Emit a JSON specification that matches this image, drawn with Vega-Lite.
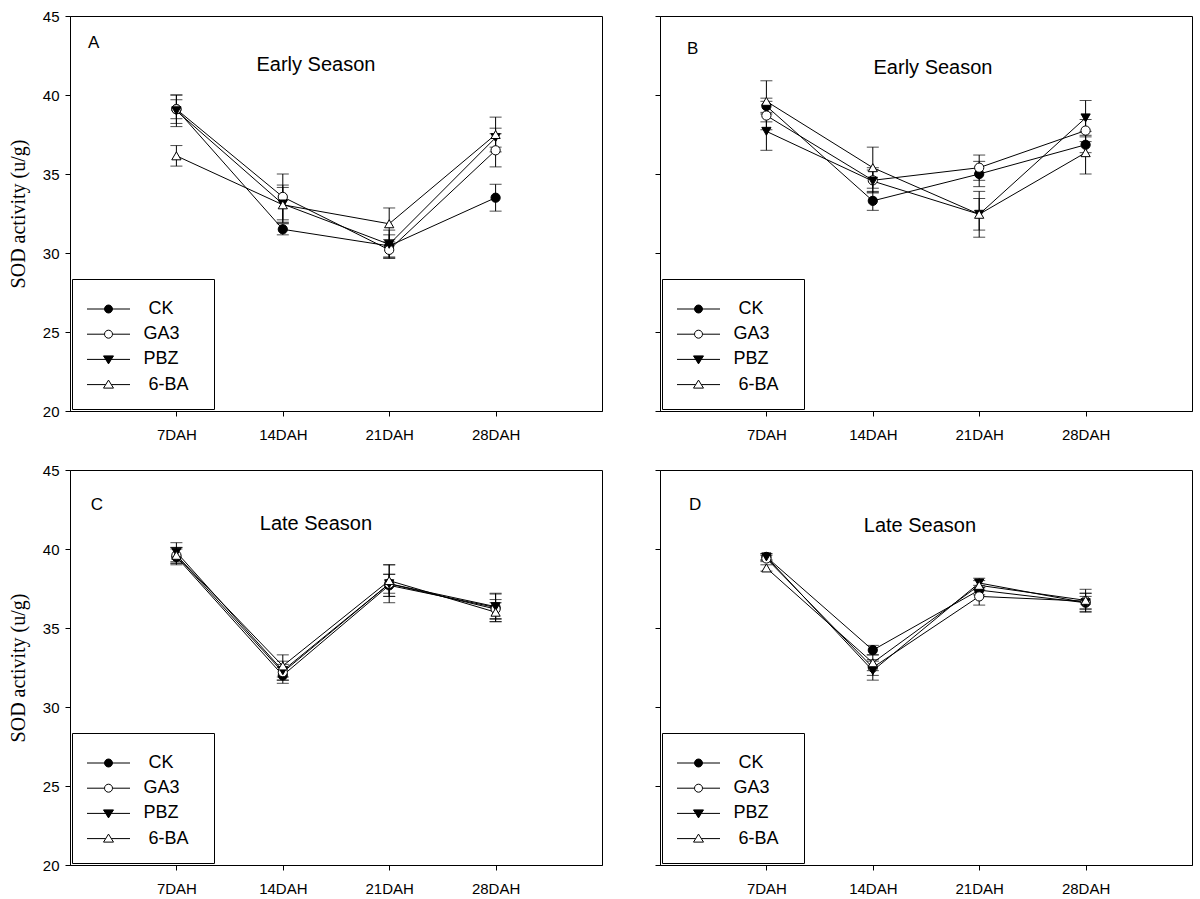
{
  "$schema": "https://vega.github.io/schema/vega-lite/v6.json",
  "background": "white",
  "padding": {"left": 7, "top": 8, "right": 5, "bottom": 5},
  "datasets": {
    "A": [
      {"treatment": "CK", "day": 7, "mean": 39.1, "se": 0.9},
      {"treatment": "CK", "day": 14, "mean": 31.5, "se": 0.35},
      {"treatment": "CK", "day": 21, "mean": 30.45, "se": 0.7},
      {"treatment": "CK", "day": 28, "mean": 33.5, "se": 0.85},
      {"treatment": "GA3", "day": 7, "mean": 39.1, "se": 0.6},
      {"treatment": "GA3", "day": 14, "mean": 33.55, "se": 1.45},
      {"treatment": "GA3", "day": 21, "mean": 30.2, "se": 0.5},
      {"treatment": "GA3", "day": 28, "mean": 36.5, "se": 1.05},
      {"treatment": "PBZ", "day": 7, "mean": 39.0, "se": 1.0},
      {"treatment": "PBZ", "day": 14, "mean": 33.1, "se": 1.2},
      {"treatment": "PBZ", "day": 21, "mean": 30.55, "se": 0.9},
      {"treatment": "PBZ", "day": 28, "mean": 37.3, "se": 0.6},
      {"treatment": "6-BA", "day": 7, "mean": 36.15, "se": 0.65},
      {"treatment": "6-BA", "day": 14, "mean": 33.05, "se": 1.1},
      {"treatment": "6-BA", "day": 21, "mean": 31.85, "se": 1.0},
      {"treatment": "6-BA", "day": 28, "mean": 37.5, "se": 1.1}
    ],
    "B": [
      {"treatment": "CK", "day": 7, "mean": 39.3, "se": 0.5},
      {"treatment": "CK", "day": 14, "mean": 33.3, "se": 0.6},
      {"treatment": "CK", "day": 21, "mean": 35.0, "se": 0.8},
      {"treatment": "CK", "day": 28, "mean": 36.85, "se": 0.5},
      {"treatment": "GA3", "day": 7, "mean": 38.7, "se": 0.9},
      {"treatment": "GA3", "day": 14, "mean": 34.6, "se": 0.8},
      {"treatment": "GA3", "day": 21, "mean": 35.4, "se": 0.8},
      {"treatment": "GA3", "day": 28, "mean": 37.75, "se": 0.7},
      {"treatment": "PBZ", "day": 7, "mean": 37.7, "se": 1.2},
      {"treatment": "PBZ", "day": 14, "mean": 34.55, "se": 0.7},
      {"treatment": "PBZ", "day": 21, "mean": 32.45, "se": 1.0},
      {"treatment": "PBZ", "day": 28, "mean": 38.55, "se": 1.1},
      {"treatment": "6-BA", "day": 7, "mean": 39.6, "se": 1.3},
      {"treatment": "6-BA", "day": 14, "mean": 35.4, "se": 1.3},
      {"treatment": "6-BA", "day": 21, "mean": 32.45, "se": 1.45},
      {"treatment": "6-BA", "day": 28, "mean": 36.35, "se": 1.35}
    ],
    "C": [
      {"treatment": "CK", "day": 7, "mean": 39.5, "se": 0.5},
      {"treatment": "CK", "day": 14, "mean": 32.0, "se": 0.5},
      {"treatment": "CK", "day": 21, "mean": 37.7, "se": 0.7},
      {"treatment": "CK", "day": 28, "mean": 36.3, "se": 0.9},
      {"treatment": "GA3", "day": 7, "mean": 39.6, "se": 0.5},
      {"treatment": "GA3", "day": 14, "mean": 32.2, "se": 0.5},
      {"treatment": "GA3", "day": 21, "mean": 37.8, "se": 0.6},
      {"treatment": "GA3", "day": 28, "mean": 36.2, "se": 0.6},
      {"treatment": "PBZ", "day": 7, "mean": 39.8, "se": 0.6},
      {"treatment": "PBZ", "day": 14, "mean": 32.3, "se": 0.6},
      {"treatment": "PBZ", "day": 21, "mean": 37.8, "se": 1.2},
      {"treatment": "PBZ", "day": 28, "mean": 36.35, "se": 0.8},
      {"treatment": "6-BA", "day": 7, "mean": 39.6, "se": 0.5},
      {"treatment": "6-BA", "day": 14, "mean": 32.6, "se": 0.7},
      {"treatment": "6-BA", "day": 21, "mean": 38.0, "se": 1.0},
      {"treatment": "6-BA", "day": 28, "mean": 36.0, "se": 0.6}
    ],
    "D": [
      {"treatment": "CK", "day": 7, "mean": 39.5, "se": 0.2},
      {"treatment": "CK", "day": 14, "mean": 33.6, "se": 0.3},
      {"treatment": "CK", "day": 21, "mean": 37.4, "se": 0.3},
      {"treatment": "CK", "day": 28, "mean": 36.6, "se": 0.6},
      {"treatment": "GA3", "day": 7, "mean": 39.4, "se": 0.2},
      {"treatment": "GA3", "day": 14, "mean": 32.5, "se": 0.5},
      {"treatment": "GA3", "day": 21, "mean": 37.0, "se": 0.55},
      {"treatment": "GA3", "day": 28, "mean": 36.7, "se": 0.5},
      {"treatment": "PBZ", "day": 7, "mean": 39.5, "se": 0.2},
      {"treatment": "PBZ", "day": 14, "mean": 32.3, "se": 0.6},
      {"treatment": "PBZ", "day": 21, "mean": 37.85, "se": 0.3},
      {"treatment": "PBZ", "day": 28, "mean": 36.6, "se": 0.4},
      {"treatment": "6-BA", "day": 7, "mean": 38.8, "se": 0.2},
      {"treatment": "6-BA", "day": 14, "mean": 32.8, "se": 0.5},
      {"treatment": "6-BA", "day": 21, "mean": 37.7, "se": 0.3},
      {"treatment": "6-BA", "day": 28, "mean": 36.75, "se": 0.7}
    ]
  },
  "spacing": 19,
  "vconcat": [
    {
      "spacing": 51,
      "hconcat": [
        {
          "width": 532, "height": 395,
          "resolve": {"scale": {"shape": "independent", "fill": "independent"}},
          "layer": [
            {"data": {"name": "A"}, "mark": {"type": "errorbar", "ticks": true, "size": 12, "thickness": 1, "color": "black"},
             "encoding": {
               "x": {"field": "day", "type": "quantitative", "scale": {"domain": [0, 35], "nice": false}, "axis": {"values": [7, 14, 21, 28], "labelExpr": "datum.value + 'DAH'", "title": null}},
               "y": {"field": "mean", "type": "quantitative", "scale": {"domain": [20, 45], "nice": false}, "axis": {"values": [20, 25, 30, 35, 40, 45], "title": "SOD activity (u/g)"}},
               "yError": {"field": "se"}}},
            {"data": {"name": "A"}, "mark": {"type": "line", "color": "black", "strokeWidth": 1},
             "encoding": {
               "x": {"field": "day", "type": "quantitative", "scale": {"domain": [0, 35], "nice": false}, "axis": {"values": [7, 14, 21, 28], "labelExpr": "datum.value + 'DAH'", "title": null}},
               "y": {"field": "mean", "type": "quantitative", "scale": {"domain": [20, 45], "nice": false}, "axis": {"values": [20, 25, 30, 35, 40, 45], "title": "SOD activity (u/g)"}},
               "detail": {"field": "treatment"}}},
            {"data": {"name": "A"}, "mark": {"type": "point", "filled": true, "stroke": "black", "strokeWidth": 1, "size": 85, "opacity": 1},
             "encoding": {
               "x": {"field": "day", "type": "quantitative", "scale": {"domain": [0, 35], "nice": false}, "axis": {"values": [7, 14, 21, 28], "labelExpr": "datum.value + 'DAH'", "title": null}},
               "y": {"field": "mean", "type": "quantitative", "scale": {"domain": [20, 45], "nice": false}, "axis": {"values": [20, 25, 30, 35, 40, 45], "title": "SOD activity (u/g)"}},
               "shape": {"field": "treatment", "scale": {"domain": ["CK", "GA3", "PBZ", "6-BA"], "range": ["circle", "circle", "triangle-down", "triangle-up"]}, "legend": null},
               "fill": {"field": "treatment", "scale": {"domain": ["CK", "GA3", "PBZ", "6-BA"], "range": ["black", "white", "black", "white"]}, "legend": null}
             }},
            {"data": {"name": "A"}, "mark": {"type": "point", "filled": true, "stroke": "black", "strokeWidth": 1, "opacity": 0},
             "encoding": {
               "x": {"field": "day", "type": "quantitative", "scale": {"domain": [0, 35], "nice": false}, "axis": {"values": [7, 14, 21, 28], "labelExpr": "datum.value + 'DAH'", "title": null}},
               "y": {"field": "mean", "type": "quantitative", "scale": {"domain": [20, 45], "nice": false}, "axis": {"values": [20, 25, 30, 35, 40, 45], "title": "SOD activity (u/g)"}},
               "shape": {"field": "treatment", "scale": {"domain": ["CK", "GA3", "PBZ", "6-BA"], "range": ["M-4.3,0H-0.8M0.8,0H4.3M-0.8,0A0.8,0.8,0,1,1,0.8,0A0.8,0.8,0,1,1,-0.8,0Z", "M-4.3,0H-0.8M0.8,0H4.3M-0.8,0A0.8,0.8,0,1,1,0.8,0A0.8,0.8,0,1,1,-0.8,0Z", "M-4.3,0H4.3M-1,-0.7L1,-0.7L0,0.9Z", "M-4.3,0H-0.56M0.56,0H4.3M-1,0.7L1,0.7L0,-0.9Z"]},
                 "legend": {"title": "\u00a0", "labelExpr": "datum.label == 'CK' ? '\u200b\u00a0CK' : datum.label == '6-BA' ? '\u200b\u00a06-BA\u00a0\u00a0\u200b' : datum.label", "encode": {"symbols": {"update": {"stroke": {"value": "black"}, "strokeWidth": {"value": 1}, "opacity": {"value": 1}}}}}},
               "fill": {"field": "treatment", "scale": {"domain": ["CK", "GA3", "PBZ", "6-BA"], "range": ["black", "white", "black", "white"]},
                 "legend": {"title": "\u00a0", "labelExpr": "datum.label == 'CK' ? '\u200b\u00a0CK' : datum.label == '6-BA' ? '\u200b\u00a06-BA\u00a0\u00a0\u200b' : datum.label", "encode": {"symbols": {"update": {"stroke": {"value": "black"}, "strokeWidth": {"value": 1}, "opacity": {"value": 1}}}}}}
             }},
            {"data": {"values": [{"label": "A"}]}, "mark": {"type": "text", "align": "left", "baseline": "alphabetic", "fontSize": 17, "font": "Liberation Sans", "color": "black"}, "encoding": {"text": {"field": "label"}, "x": {"datum": 1.18, "scale": {"domain": [0, 35], "nice": false}}, "y": {"datum": 42.99, "scale": {"domain": [20, 45], "nice": false}}}},
            {"data": {"values": [{"label": "Early Season"}]}, "mark": {"type": "text", "align": "center", "baseline": "alphabetic", "fontSize": 20, "font": "Liberation Sans", "color": "black"}, "encoding": {"text": {"field": "label"}, "x": {"datum": 16.18, "scale": {"domain": [0, 35], "nice": false}}, "y": {"datum": 41.52, "scale": {"domain": [20, 45], "nice": false}}}}
          ]
        },
        {
          "width": 532, "height": 395,
          "resolve": {"scale": {"shape": "independent", "fill": "independent"}},
          "layer": [
            {"data": {"name": "B"}, "mark": {"type": "errorbar", "ticks": true, "size": 12, "thickness": 1, "color": "black"},
             "encoding": {
               "x": {"field": "day", "type": "quantitative", "scale": {"domain": [0, 35], "nice": false}, "axis": {"values": [7, 14, 21, 28], "labelExpr": "datum.value + 'DAH'", "title": null}},
               "y": {"field": "mean", "type": "quantitative", "scale": {"domain": [20, 45], "nice": false}, "axis": {"values": [20, 25, 30, 35, 40, 45], "labels": false, "title": null}},
               "yError": {"field": "se"}}},
            {"data": {"name": "B"}, "mark": {"type": "line", "color": "black", "strokeWidth": 1},
             "encoding": {
               "x": {"field": "day", "type": "quantitative", "scale": {"domain": [0, 35], "nice": false}, "axis": {"values": [7, 14, 21, 28], "labelExpr": "datum.value + 'DAH'", "title": null}},
               "y": {"field": "mean", "type": "quantitative", "scale": {"domain": [20, 45], "nice": false}, "axis": {"values": [20, 25, 30, 35, 40, 45], "labels": false, "title": null}},
               "detail": {"field": "treatment"}}},
            {"data": {"name": "B"}, "mark": {"type": "point", "filled": true, "stroke": "black", "strokeWidth": 1, "size": 85, "opacity": 1},
             "encoding": {
               "x": {"field": "day", "type": "quantitative", "scale": {"domain": [0, 35], "nice": false}, "axis": {"values": [7, 14, 21, 28], "labelExpr": "datum.value + 'DAH'", "title": null}},
               "y": {"field": "mean", "type": "quantitative", "scale": {"domain": [20, 45], "nice": false}, "axis": {"values": [20, 25, 30, 35, 40, 45], "labels": false, "title": null}},
               "shape": {"field": "treatment", "scale": {"domain": ["CK", "GA3", "PBZ", "6-BA"], "range": ["circle", "circle", "triangle-down", "triangle-up"]}, "legend": null},
               "fill": {"field": "treatment", "scale": {"domain": ["CK", "GA3", "PBZ", "6-BA"], "range": ["black", "white", "black", "white"]}, "legend": null}
             }},
            {"data": {"name": "B"}, "mark": {"type": "point", "filled": true, "stroke": "black", "strokeWidth": 1, "opacity": 0},
             "encoding": {
               "x": {"field": "day", "type": "quantitative", "scale": {"domain": [0, 35], "nice": false}, "axis": {"values": [7, 14, 21, 28], "labelExpr": "datum.value + 'DAH'", "title": null}},
               "y": {"field": "mean", "type": "quantitative", "scale": {"domain": [20, 45], "nice": false}, "axis": {"values": [20, 25, 30, 35, 40, 45], "labels": false, "title": null}},
               "shape": {"field": "treatment", "scale": {"domain": ["CK", "GA3", "PBZ", "6-BA"], "range": ["M-4.3,0H-0.8M0.8,0H4.3M-0.8,0A0.8,0.8,0,1,1,0.8,0A0.8,0.8,0,1,1,-0.8,0Z", "M-4.3,0H-0.8M0.8,0H4.3M-0.8,0A0.8,0.8,0,1,1,0.8,0A0.8,0.8,0,1,1,-0.8,0Z", "M-4.3,0H4.3M-1,-0.7L1,-0.7L0,0.9Z", "M-4.3,0H-0.56M0.56,0H4.3M-1,0.7L1,0.7L0,-0.9Z"]},
                 "legend": {"title": "\u00a0", "labelExpr": "datum.label == 'CK' ? '\u200b\u00a0CK' : datum.label == '6-BA' ? '\u200b\u00a06-BA\u00a0\u00a0\u200b' : datum.label", "encode": {"symbols": {"update": {"stroke": {"value": "black"}, "strokeWidth": {"value": 1}, "opacity": {"value": 1}}}}}},
               "fill": {"field": "treatment", "scale": {"domain": ["CK", "GA3", "PBZ", "6-BA"], "range": ["black", "white", "black", "white"]},
                 "legend": {"title": "\u00a0", "labelExpr": "datum.label == 'CK' ? '\u200b\u00a0CK' : datum.label == '6-BA' ? '\u200b\u00a06-BA\u00a0\u00a0\u200b' : datum.label", "encode": {"symbols": {"update": {"stroke": {"value": "black"}, "strokeWidth": {"value": 1}, "opacity": {"value": 1}}}}}}
             }},
            {"data": {"values": [{"label": "B"}]}, "mark": {"type": "text", "align": "left", "baseline": "alphabetic", "fontSize": 17, "font": "Liberation Sans", "color": "black"}, "encoding": {"text": {"field": "label"}, "x": {"datum": 1.78, "scale": {"domain": [0, 35], "nice": false}}, "y": {"datum": 42.58, "scale": {"domain": [20, 45], "nice": false}}}},
            {"data": {"values": [{"label": "Early Season"}]}, "mark": {"type": "text", "align": "center", "baseline": "alphabetic", "fontSize": 20, "font": "Liberation Sans", "color": "black"}, "encoding": {"text": {"field": "label"}, "x": {"datum": 17.96, "scale": {"domain": [0, 35], "nice": false}}, "y": {"datum": 41.3, "scale": {"domain": [20, 45], "nice": false}}}}
          ]
        }
      ]
    },
    {
      "spacing": 51,
      "hconcat": [
        {
          "width": 532, "height": 395,
          "resolve": {"scale": {"shape": "independent", "fill": "independent"}},
          "layer": [
            {"data": {"name": "C"}, "mark": {"type": "errorbar", "ticks": true, "size": 12, "thickness": 1, "color": "black"},
             "encoding": {
               "x": {"field": "day", "type": "quantitative", "scale": {"domain": [0, 35], "nice": false}, "axis": {"values": [7, 14, 21, 28], "labelExpr": "datum.value + 'DAH'", "title": null}},
               "y": {"field": "mean", "type": "quantitative", "scale": {"domain": [20, 45], "nice": false}, "axis": {"values": [20, 25, 30, 35, 40, 45], "title": "SOD activity (u/g)"}},
               "yError": {"field": "se"}}},
            {"data": {"name": "C"}, "mark": {"type": "line", "color": "black", "strokeWidth": 1},
             "encoding": {
               "x": {"field": "day", "type": "quantitative", "scale": {"domain": [0, 35], "nice": false}, "axis": {"values": [7, 14, 21, 28], "labelExpr": "datum.value + 'DAH'", "title": null}},
               "y": {"field": "mean", "type": "quantitative", "scale": {"domain": [20, 45], "nice": false}, "axis": {"values": [20, 25, 30, 35, 40, 45], "title": "SOD activity (u/g)"}},
               "detail": {"field": "treatment"}}},
            {"data": {"name": "C"}, "mark": {"type": "point", "filled": true, "stroke": "black", "strokeWidth": 1, "size": 85, "opacity": 1},
             "encoding": {
               "x": {"field": "day", "type": "quantitative", "scale": {"domain": [0, 35], "nice": false}, "axis": {"values": [7, 14, 21, 28], "labelExpr": "datum.value + 'DAH'", "title": null}},
               "y": {"field": "mean", "type": "quantitative", "scale": {"domain": [20, 45], "nice": false}, "axis": {"values": [20, 25, 30, 35, 40, 45], "title": "SOD activity (u/g)"}},
               "shape": {"field": "treatment", "scale": {"domain": ["CK", "GA3", "PBZ", "6-BA"], "range": ["circle", "circle", "triangle-down", "triangle-up"]}, "legend": null},
               "fill": {"field": "treatment", "scale": {"domain": ["CK", "GA3", "PBZ", "6-BA"], "range": ["black", "white", "black", "white"]}, "legend": null}
             }},
            {"data": {"name": "C"}, "mark": {"type": "point", "filled": true, "stroke": "black", "strokeWidth": 1, "opacity": 0},
             "encoding": {
               "x": {"field": "day", "type": "quantitative", "scale": {"domain": [0, 35], "nice": false}, "axis": {"values": [7, 14, 21, 28], "labelExpr": "datum.value + 'DAH'", "title": null}},
               "y": {"field": "mean", "type": "quantitative", "scale": {"domain": [20, 45], "nice": false}, "axis": {"values": [20, 25, 30, 35, 40, 45], "title": "SOD activity (u/g)"}},
               "shape": {"field": "treatment", "scale": {"domain": ["CK", "GA3", "PBZ", "6-BA"], "range": ["M-4.3,0H-0.8M0.8,0H4.3M-0.8,0A0.8,0.8,0,1,1,0.8,0A0.8,0.8,0,1,1,-0.8,0Z", "M-4.3,0H-0.8M0.8,0H4.3M-0.8,0A0.8,0.8,0,1,1,0.8,0A0.8,0.8,0,1,1,-0.8,0Z", "M-4.3,0H4.3M-1,-0.7L1,-0.7L0,0.9Z", "M-4.3,0H-0.56M0.56,0H4.3M-1,0.7L1,0.7L0,-0.9Z"]},
                 "legend": {"title": "\u00a0", "labelExpr": "datum.label == 'CK' ? '\u200b\u00a0CK' : datum.label == '6-BA' ? '\u200b\u00a06-BA\u00a0\u00a0\u200b' : datum.label", "encode": {"symbols": {"update": {"stroke": {"value": "black"}, "strokeWidth": {"value": 1}, "opacity": {"value": 1}}}}}},
               "fill": {"field": "treatment", "scale": {"domain": ["CK", "GA3", "PBZ", "6-BA"], "range": ["black", "white", "black", "white"]},
                 "legend": {"title": "\u00a0", "labelExpr": "datum.label == 'CK' ? '\u200b\u00a0CK' : datum.label == '6-BA' ? '\u200b\u00a06-BA\u00a0\u00a0\u200b' : datum.label", "encode": {"symbols": {"update": {"stroke": {"value": "black"}, "strokeWidth": {"value": 1}, "opacity": {"value": 1}}}}}}
             }},
            {"data": {"values": [{"label": "C"}]}, "mark": {"type": "text", "align": "left", "baseline": "alphabetic", "fontSize": 17, "font": "Liberation Sans", "color": "black"}, "encoding": {"text": {"field": "label"}, "x": {"datum": 1.36, "scale": {"domain": [0, 35], "nice": false}}, "y": {"datum": 42.47, "scale": {"domain": [20, 45], "nice": false}}}},
            {"data": {"values": [{"label": "Late Season"}]}, "mark": {"type": "text", "align": "center", "baseline": "alphabetic", "fontSize": 20, "font": "Liberation Sans", "color": "black"}, "encoding": {"text": {"field": "label"}, "x": {"datum": 16.18, "scale": {"domain": [0, 35], "nice": false}}, "y": {"datum": 41.2, "scale": {"domain": [20, 45], "nice": false}}}}
          ]
        },
        {
          "width": 532, "height": 395,
          "resolve": {"scale": {"shape": "independent", "fill": "independent"}},
          "layer": [
            {"data": {"name": "D"}, "mark": {"type": "errorbar", "ticks": true, "size": 12, "thickness": 1, "color": "black"},
             "encoding": {
               "x": {"field": "day", "type": "quantitative", "scale": {"domain": [0, 35], "nice": false}, "axis": {"values": [7, 14, 21, 28], "labelExpr": "datum.value + 'DAH'", "title": null}},
               "y": {"field": "mean", "type": "quantitative", "scale": {"domain": [20, 45], "nice": false}, "axis": {"values": [20, 25, 30, 35, 40, 45], "labels": false, "title": null}},
               "yError": {"field": "se"}}},
            {"data": {"name": "D"}, "mark": {"type": "line", "color": "black", "strokeWidth": 1},
             "encoding": {
               "x": {"field": "day", "type": "quantitative", "scale": {"domain": [0, 35], "nice": false}, "axis": {"values": [7, 14, 21, 28], "labelExpr": "datum.value + 'DAH'", "title": null}},
               "y": {"field": "mean", "type": "quantitative", "scale": {"domain": [20, 45], "nice": false}, "axis": {"values": [20, 25, 30, 35, 40, 45], "labels": false, "title": null}},
               "detail": {"field": "treatment"}}},
            {"data": {"name": "D"}, "mark": {"type": "point", "filled": true, "stroke": "black", "strokeWidth": 1, "size": 85, "opacity": 1},
             "encoding": {
               "x": {"field": "day", "type": "quantitative", "scale": {"domain": [0, 35], "nice": false}, "axis": {"values": [7, 14, 21, 28], "labelExpr": "datum.value + 'DAH'", "title": null}},
               "y": {"field": "mean", "type": "quantitative", "scale": {"domain": [20, 45], "nice": false}, "axis": {"values": [20, 25, 30, 35, 40, 45], "labels": false, "title": null}},
               "shape": {"field": "treatment", "scale": {"domain": ["CK", "GA3", "PBZ", "6-BA"], "range": ["circle", "circle", "triangle-down", "triangle-up"]}, "legend": null},
               "fill": {"field": "treatment", "scale": {"domain": ["CK", "GA3", "PBZ", "6-BA"], "range": ["black", "white", "black", "white"]}, "legend": null}
             }},
            {"data": {"name": "D"}, "mark": {"type": "point", "filled": true, "stroke": "black", "strokeWidth": 1, "opacity": 0},
             "encoding": {
               "x": {"field": "day", "type": "quantitative", "scale": {"domain": [0, 35], "nice": false}, "axis": {"values": [7, 14, 21, 28], "labelExpr": "datum.value + 'DAH'", "title": null}},
               "y": {"field": "mean", "type": "quantitative", "scale": {"domain": [20, 45], "nice": false}, "axis": {"values": [20, 25, 30, 35, 40, 45], "labels": false, "title": null}},
               "shape": {"field": "treatment", "scale": {"domain": ["CK", "GA3", "PBZ", "6-BA"], "range": ["M-4.3,0H-0.8M0.8,0H4.3M-0.8,0A0.8,0.8,0,1,1,0.8,0A0.8,0.8,0,1,1,-0.8,0Z", "M-4.3,0H-0.8M0.8,0H4.3M-0.8,0A0.8,0.8,0,1,1,0.8,0A0.8,0.8,0,1,1,-0.8,0Z", "M-4.3,0H4.3M-1,-0.7L1,-0.7L0,0.9Z", "M-4.3,0H-0.56M0.56,0H4.3M-1,0.7L1,0.7L0,-0.9Z"]},
                 "legend": {"title": "\u00a0", "labelExpr": "datum.label == 'CK' ? '\u200b\u00a0CK' : datum.label == '6-BA' ? '\u200b\u00a06-BA\u00a0\u00a0\u200b' : datum.label", "encode": {"symbols": {"update": {"stroke": {"value": "black"}, "strokeWidth": {"value": 1}, "opacity": {"value": 1}}}}}},
               "fill": {"field": "treatment", "scale": {"domain": ["CK", "GA3", "PBZ", "6-BA"], "range": ["black", "white", "black", "white"]},
                 "legend": {"title": "\u00a0", "labelExpr": "datum.label == 'CK' ? '\u200b\u00a0CK' : datum.label == '6-BA' ? '\u200b\u00a06-BA\u00a0\u00a0\u200b' : datum.label", "encode": {"symbols": {"update": {"stroke": {"value": "black"}, "strokeWidth": {"value": 1}, "opacity": {"value": 1}}}}}}
             }},
            {"data": {"values": [{"label": "D"}]}, "mark": {"type": "text", "align": "left", "baseline": "alphabetic", "fontSize": 17, "font": "Liberation Sans", "color": "black"}, "encoding": {"text": {"field": "label"}, "x": {"datum": 1.91, "scale": {"domain": [0, 35], "nice": false}}, "y": {"datum": 42.47, "scale": {"domain": [20, 45], "nice": false}}}},
            {"data": {"values": [{"label": "Late Season"}]}, "mark": {"type": "text", "align": "center", "baseline": "alphabetic", "fontSize": 20, "font": "Liberation Sans", "color": "black"}, "encoding": {"text": {"field": "label"}, "x": {"datum": 17.1, "scale": {"domain": [0, 35], "nice": false}}, "y": {"datum": 41.1, "scale": {"domain": [20, 45], "nice": false}}}}
          ]
        }
      ]
    }
  ],
  "config": {
    "view": {"stroke": "black", "strokeWidth": 1},
    "axis": {"grid": false, "domainColor": "black", "domainWidth": 1, "tickColor": "black", "tickWidth": 1, "tickSize": 5, "labelFont": "Liberation Sans", "labelFontSize": 15, "labelColor": "black", "titleFont": "Liberation Serif", "titleFontSize": 20, "titleFontWeight": "normal", "titleColor": "black"},
    "axisY": {"labelPadding": 6, "titlePadding": 14},
    "axisX": {"labelPadding": 11},
    "legend": {
      "orient": "bottom-left", "offset": 2,
      "titleFontSize": 4, "titlePadding": 2,
      "strokeColor": "black", "strokeWidth": 1, "fillColor": "white", "padding": 15,
      "labelFont": "Liberation Sans", "labelFontSize": 18, "labelColor": "black",
      "labelOffset": 26, "rowPadding": 7.2, "symbolOffset": 12.5,
      "symbolSize": 100, "symbolStrokeWidth": 1, "symbolOpacity": 1, "symbolStrokeColor": "black"
    }
  }
}
